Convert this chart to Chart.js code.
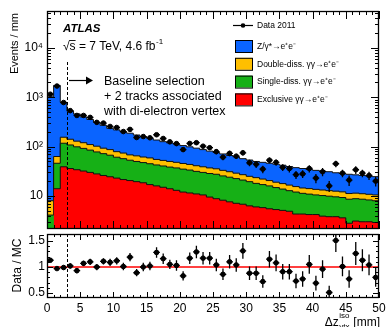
<!DOCTYPE html>
<html>
<head>
<meta charset="utf-8">
<title>Delta z vtx iso</title>
<script src="https://cdn.jsdelivr.net/npm/chart.js@4.4.1/dist/chart.umd.min.js"></script>
<style>
  body { margin: 0; background: #fff; }
  #plot { position: relative; width: 388px; height: 327px; overflow: hidden; }
  #plot canvas { position: absolute; left: 0; }
</style>
</head>
<body>
<div id="plot">
  <canvas id="main-chart" width="388" height="232" style="top:0"></canvas>
  <canvas id="ratio-chart" width="388" height="95" style="top:232px"></canvas>
</div>
<script>
// Bins de 1 mm en Δz (borde inferior de cada bin)
const binWidth = 1;
const binLow = [0, 1, 2, 3, 4, 5, 6, 7, 8, 9, 10, 11, 12, 13, 14, 15, 16, 17, 18, 19,
  20, 21, 22, 23, 24, 25, 26, 27, 28, 29, 30, 31, 32, 33, 34, 35, 36, 37, 38, 39,
  40, 41, 42, 43, 44, 45, 46, 47, 48, 49];

// Contribuciones MC (eventos / mm)
const exclusive = [0, 14, 39, 36, 34, 32, 30, 28, 26, 24.5, 23, 21.5, 20.5, 19.5, 18.5, 17, 16, 15, 14, 13,
  12, 11.5, 11, 10.5, 9.5, 8.8, 8.2, 7.6, 7.1, 6.8, 6.3, 6, 5.8, 5.5, 5.3, 5.1, 4.9, 4.3, 4.3, 4.2,
  4.2, 3.9, 3.8, 3.8, 3.6, 2.8, 3.1, 3.0, 3.0, 2.9];
const singleDiss = [4.1, 32, 78, 72, 65, 60, 55, 50, 46, 42.5, 38, 35.5, 32.5, 30.5, 29, 28, 26.5, 25.5, 24.5, 24,
  23, 22, 20.5, 19.5, 19, 18.7, 17.3, 16.4, 15.4, 14.2, 13.2, 12, 11.2, 10.5, 9.5, 8.7, 7.9, 7.7, 7.0, 6.7,
  6.3, 6.3, 6.1, 5.8, 5.7, 5.8, 5.7, 5.6, 5.3, 5.1];
const doubleDiss = [3.9, 17, 38, 33, 30, 28, 25, 24, 21, 20, 18, 17, 15, 15, 14, 14, 12.5, 12, 11.5, 11,
  10.5, 10, 9.5, 9, 8.5, 8, 7.5, 7, 6.5, 6, 5.5, 5.5, 5, 4.5, 4.2, 4.0, 3.8, 3.5, 3.2, 3.2,
  3.1, 3.0, 2.9, 2.9, 2.8, 2.6, 2.6, 2.5, 2.5, 2.5];
const zGamma = [1012, 1677, 635, 384, 331, 280, 245, 208, 177, 148, 139, 126, 119, 107, 98.5, 89, 81, 73.5, 69, 64,
  59.5, 55.5, 52, 48, 44, 40.5, 38, 35, 33, 30, 28.5, 26.5, 26, 25.5, 25, 24.2, 22.9, 22, 21.5, 20.4,
  19.4, 18.8, 18.2, 17, 16.4, 16.3, 15.4, 14.9, 14.5, 14.1];

// Datos 2011 y su error
const data2011 = [1153, 1688, 782, 536, 428, 428, 391, 310, 300, 256, 244, 202, 223, 153, 160, 151, 174, 146, 125, 115,
  87, 116, 120, 102, 95, 79, 61, 73, 64, 75, 47, 44, 35, 53, 48, 38, 36, 27, 28, 36,
  23, 31, 16, 45, 29, 21, 34, 29, 26, 20];
const dataErr = [34, 41, 28, 23, 21, 21, 20, 18, 17, 16, 16, 14, 15, 12, 13, 12, 13, 12, 11, 11,
  9, 11, 11, 10, 10, 9, 8, 9, 8, 9, 7, 7, 6, 7, 7, 6, 6, 5, 5, 6,
  5, 6, 4, 7, 5, 5, 6, 5, 5, 4.5];

// Cociente Data / MC
const ratio = [1.13, 0.97, 0.99, 1.02, 0.93, 1.07, 1.10, 1.00, 1.11, 1.09, 1.12, 1.01, 1.19, 0.89, 1.00, 1.02, 1.28, 1.16, 1.05, 1.03,
  0.83, 1.17, 1.29, 1.17, 1.17, 1.04, 0.86, 1.10, 1.04, 1.31, 0.88, 0.88, 0.72, 1.15, 1.08, 0.91, 0.91, 0.73, 0.77, 1.05,
  0.69, 0.96, 0.51, 1.51, 1.01, 0.77, 1.26, 1.13, 1.04, 0.80];
const ratioErr = [0.04, 0.03, 0.04, 0.05, 0.05, 0.05, 0.06, 0.06, 0.06, 0.07, 0.07, 0.07, 0.08, 0.07, 0.08, 0.08, 0.1, 0.1, 0.09, 0.1,
  0.09, 0.11, 0.12, 0.12, 0.12, 0.12, 0.11, 0.13, 0.13, 0.15, 0.13, 0.13, 0.12, 0.16, 0.16, 0.15, 0.15, 0.14, 0.15, 0.18,
  0.14, 0.17, 0.13, 0.22, 0.19, 0.17, 0.22, 0.21, 0.2, 0.18];

// Ejes
const xTicks = [0, 5, 10, 15, 20, 25, 30, 35, 40, 45, 50];
const yTicks = [10, 100, 1000, 10000];
const yTickLabels = ['10', '10²', '10³', '10⁴'];
const ratioTicks = [0.5, 1, 1.5];
const ratioTickLabels = ['0.5', '1', '1.5'];
const cutZ = 3; // corte de selección en Δz

const FONT = "'Liberation Sans', Arial, Helvetica, sans-serif";
Chart.defaults.font.family = FONT;
Chart.defaults.color = '#000';

const colZ = '#0a64ff';
const colDD = '#ffbf00';
const colSD = '#16b016';
const colEx = '#ff0000';

// Construir los escalones del histograma
function histSteps(vals) {
  const pts = vals.map((v, i) => ({ x: binLow[i], y: v }));
  pts.push({ x: binLow[binLow.length - 1] + binWidth, y: vals[vals.length - 1] });
  return pts;
}
function binCenters(vals) {
  return vals.map((v, i) => ({ x: binLow[i] + binWidth / 2, y: v }));
}
function addUp(a, b) {
  return a.map((v, i) => v + b[i]);
}

// Apilado (rojo abajo, azul arriba)
const stackEx = exclusive.slice();
const stackSD = addUp(stackEx, singleDiss);
const stackDD = addUp(stackSD, doubleDiss);
const stackZ = addUp(stackDD, zGamma);

function layer(label, values, color, order) {
  return {
    label, data: histSteps(values), stepped: 'before', fill: 'start',
    backgroundColor: color, borderColor: '#111', borderWidth: 1,
    pointRadius: 0, order
  };
}

// Quitar el relleno automático que Chart.js reserva para las etiquetas
function fixedAxis(size, horizontal) {
  return s => {
    if (horizontal) s.height = size; else s.width = size;
    s.paddingTop = 0; s.paddingBottom = 0; s.paddingLeft = 0; s.paddingRight = 0;
  };
}

// Barras de error
const errorBars = {
  id: 'errorBars',
  afterDatasetsDraw(chart) {
    const { ctx, chartArea: a, scales: { x, y } } = chart;
    ctx.save();
    ctx.beginPath();
    ctx.rect(a.left, a.top, a.right - a.left, a.bottom - a.top);
    ctx.clip();
    ctx.strokeStyle = '#000';
    ctx.lineWidth = 1.3;
    chart.data.datasets.forEach(ds => {
      if (!ds.errors) return;
      ds.data.forEach((p, i) => {
        const e = ds.errors[i];
        const px = x.getPixelForValue(p.x);
        const py = y.getPixelForValue(p.y);
        const lo = p.y - e > 0 ? y.getPixelForValue(p.y - e) : a.bottom;
        const hi = y.getPixelForValue(p.y + e);
        ctx.beginPath();
        ctx.moveTo(px, hi);
        ctx.lineTo(px, lo);
        ctx.moveTo(x.getPixelForValue(p.x - binWidth / 2), py);
        ctx.lineTo(x.getPixelForValue(p.x + binWidth / 2), py);
        ctx.stroke();
      });
    });
    ctx.restore();
  }
};

// Marco y ticks hacia dentro (estilo ATLAS)
function drawFrame(chart, yMajor, yMinor, majLen, minLen) {
  const { ctx, chartArea: a, scales: { x, y } } = chart;
  ctx.save();
  ctx.strokeStyle = '#000';
  ctx.lineWidth = 1;
  ctx.beginPath();
  for (let v = x.min; v <= x.max; v += binWidth) {
    const len = v % 5 === 0 ? majLen : minLen;
    const px = Math.round(x.getPixelForValue(v)) + 0.5;
    ctx.moveTo(px, a.bottom); ctx.lineTo(px, a.bottom - len);
    ctx.moveTo(px, a.top); ctx.lineTo(px, a.top + len);
  }
  const yTick = (v, len) => {
    const py = Math.round(y.getPixelForValue(v)) + 0.5;
    ctx.moveTo(a.left, py); ctx.lineTo(a.left + len, py);
    ctx.moveTo(a.right, py); ctx.lineTo(a.right - len, py);
  };
  yMajor.forEach(v => yTick(v, majLen));
  yMinor.forEach(v => yTick(v, minLen));
  ctx.stroke();
  ctx.lineWidth = 1.3;
  ctx.strokeRect(Math.round(a.left) + 0.5, Math.round(a.top) + 0.5,
    Math.round(a.right - a.left) - 1, Math.round(a.bottom - a.top) - 1);
  ctx.restore();
}

function dashedCut(chart, top) {
  const { ctx, chartArea: a, scales: { x } } = chart;
  const xc = Math.round(x.getPixelForValue(cutZ)) + 0.5;
  ctx.save();
  ctx.strokeStyle = '#000';
  ctx.lineWidth = 1;
  ctx.setLineDash([3, 2]);
  ctx.beginPath();
  ctx.moveTo(xc, top);
  ctx.lineTo(xc, a.bottom);
  ctx.stroke();
  ctx.restore();
}

const mainDecor = {
  id: 'mainDecor',
  afterDraw(chart) {
    const { ctx, scales: { y } } = chart;
    const logMinor = [];
    for (let k = 0; k <= 4; k++) {
      for (let m = 2; m <= 9; m++) {
        const v = m * Math.pow(10, k);
        if (v > y.min && v < y.max) logMinor.push(v);
      }
    }
    drawFrame(chart, yTicks, logMinor, 8, 4);
    dashedCut(chart, 62);

    ctx.save();
    ctx.fillStyle = '#000';
    ctx.strokeStyle = '#000';
    // flecha
    ctx.lineWidth = 1.2;
    ctx.beginPath();
    ctx.moveTo(69, 80.5);
    ctx.lineTo(87, 80.5);
    ctx.stroke();
    ctx.beginPath();
    ctx.moveTo(93, 80.5);
    ctx.lineTo(86, 76.5);
    ctx.lineTo(86, 84.5);
    ctx.closePath();
    ctx.fill();

    ctx.textBaseline = 'alphabetic';
    ctx.textAlign = 'left';
    ctx.font = '12.5px ' + FONT;
    ctx.fillText('Baseline selection', 104, 85);
    ctx.fillText('+ 2 tracks associated', 104, 100);
    ctx.fillText('with di-electron vertex', 104, 114.5);

    ctx.font = 'italic bold 11.5px ' + FONT;
    ctx.fillText('ATLAS', 63, 32);
    ctx.font = '12px ' + FONT;
    const t1 = '√s = 7 TeV, 4.6 fb';
    ctx.fillText(t1, 63, 50);
    const w1 = ctx.measureText(t1).width;
    const wRoot = ctx.measureText('√').width;
    const wS = ctx.measureText('s').width;
    ctx.lineWidth = 0.9;
    ctx.beginPath();
    ctx.moveTo(63 + wRoot - 0.5, 40.5);
    ctx.lineTo(63 + wRoot + wS, 40.5);
    ctx.stroke();
    ctx.font = '8px ' + FONT;
    ctx.fillText('-1', 63 + w1 + 0.5, 44);

    // eje y
    ctx.font = '11px ' + FONT;
    ctx.save();
    ctx.translate(15, 13);
    ctx.rotate(-Math.PI / 2);
    ctx.textAlign = 'right';
    ctx.textBaseline = 'middle';
    ctx.fillText('Events / mm', 0, 0);
    ctx.restore();

    // leyenda
    ctx.font = '8.5px ' + FONT;
    ctx.textBaseline = 'middle';
    ctx.lineWidth = 1.2;
    ctx.beginPath();
    ctx.moveTo(233, 25.5);
    ctx.lineTo(253, 25.5);
    ctx.stroke();
    ctx.beginPath();
    ctx.arc(243, 25.5, 2.3, 0, Math.PI * 2);
    ctx.fill();
    ctx.fillText(chart.data.datasets[0].label, 257, 25.5);
    const order = [4, 3, 2, 1];
    order.forEach((di, k) => {
      const ds = chart.data.datasets[di];
      const top = 40 + k * 17.8;
      ctx.fillStyle = ds.backgroundColor;
      ctx.fillRect(235, top, 17, 12);
      ctx.strokeStyle = '#000';
      ctx.lineWidth = 1;
      ctx.strokeRect(235.5, top + 0.5, 17, 12);
      ctx.fillStyle = '#000';
      ctx.fillText(ds.label, 257, top + 6.5);
    });
    ctx.restore();
  }
};

const ratioDecor = {
  id: 'ratioDecor',
  afterDraw(chart) {
    const { ctx } = chart;
    const minor = [];
    for (let v = 0.5; v <= 1.6; v += 0.1) {
      const r = Math.round(v * 10) / 10;
      if (!ratioTicks.includes(r)) minor.push(r);
    }
    drawFrame(chart, ratioTicks, minor, 6, 3);
    dashedCut(chart, chart.chartArea.top);

    ctx.save();
    ctx.fillStyle = '#000';
    ctx.font = '12px ' + FONT;
    ctx.save();
    ctx.translate(17.5, 33.5);
    ctx.rotate(-Math.PI / 2);
    ctx.textAlign = 'center';
    ctx.textBaseline = 'middle';
    ctx.fillText('Data / MC', 0, 0);
    ctx.restore();

    // título eje x: Δz_vtx^iso [mm]
    ctx.textBaseline = 'alphabetic';
    ctx.textAlign = 'left';
    const base = 93.5;
    ctx.font = '12px ' + FONT;
    const wUnit = ctx.measureText(' [mm]').width;
    ctx.font = '8px ' + FONT;
    const wIdx = Math.max(ctx.measureText('iso').width, ctx.measureText('vtx').width);
    ctx.font = '12px ' + FONT;
    const wDz = ctx.measureText('Δz').width;
    let xs = 380 - wUnit - wIdx - wDz - 1;
    ctx.fillText('Δz', xs, base);
    xs += wDz + 0.5;
    ctx.font = '8px ' + FONT;
    ctx.fillText('iso', xs, base - 8);
    ctx.fillText('vtx', xs, base + 3);
    xs += wIdx + 0.5;
    ctx.font = '12px ' + FONT;
    ctx.fillText(' [mm]', xs, base);
    ctx.restore();
  }
};

const tickFont = { family: FONT, size: 12 };

new Chart(document.getElementById('main-chart'), {
  type: 'line',
  data: {
    datasets: [
      {
        label: 'Data 2011', data: binCenters(data2011), errors: dataErr, showLine: false,
        pointRadius: 2.3, pointBackgroundColor: '#000', pointBorderColor: '#000', order: 0
      },
      layer('Exclusive γγ→e⁺e⁻', stackEx, colEx, 1),
      layer('Single-diss. γγ→e⁺e⁻', stackSD, colSD, 2),
      layer('Double-diss. γγ→e⁺e⁻', stackDD, colDD, 3),
      layer('Z/γ*→e⁺e⁻', stackZ, colZ, 4)
    ]
  },
  options: {
    responsive: false,
    animation: false,
    events: [],
    layout: { autoPadding: false, padding: { top: 11, right: 9, bottom: 3, left: 0 } },
    plugins: { legend: { display: false }, tooltip: { enabled: false } },
    scales: {
      x: { type: 'linear', min: 0, max: 50, display: false },
      y: {
        type: 'logarithmic', min: 2.14, max: 56000,
        afterBuildTicks: s => { s.ticks = yTicks.map(v => ({ value: v })); },
        afterFit: fixedAxis(47, false),
        grid: { display: false, drawTicks: false },
        border: { display: false },
        ticks: {
          callback: v => yTickLabels[yTicks.indexOf(v)] ?? '',
          font: tickFont, color: '#000', padding: 4, autoSkip: false
        }
      }
    }
  },
  plugins: [errorBars, mainDecor]
});

new Chart(document.getElementById('ratio-chart'), {
  type: 'line',
  data: {
    datasets: [
      {
        label: 'Data / MC', data: binCenters(ratio), errors: ratioErr, showLine: false,
        pointRadius: 2.3, pointBackgroundColor: '#000', pointBorderColor: '#000', order: 0
      },
      {
        label: 'unidad', data: [{ x: 0, y: 1 }, { x: 50, y: 1 }],
        borderColor: '#ff0000', borderWidth: 1.6, pointRadius: 0, order: 1
      }
    ]
  },
  options: {
    responsive: false,
    animation: false,
    events: [],
    layout: { autoPadding: false, padding: { top: 2, right: 9, bottom: 0, left: 0 } },
    plugins: { legend: { display: false }, tooltip: { enabled: false } },
    scales: {
      x: {
        type: 'linear', min: 0, max: 50,
        afterBuildTicks: s => { s.ticks = xTicks.map(v => ({ value: v })); },
        afterFit: fixedAxis(29, true),
        grid: { display: false, drawTicks: false },
        border: { display: false },
        ticks: { font: tickFont, color: '#000', padding: 3, maxRotation: 0, autoSkip: false }
      },
      y: {
        type: 'linear', min: 0.404, max: 1.635,
        afterBuildTicks: s => { s.ticks = ratioTicks.map(v => ({ value: v })); },
        afterFit: fixedAxis(47, false),
        grid: { display: false, drawTicks: false },
        border: { display: false },
        ticks: {
          callback: v => ratioTickLabels[ratioTicks.indexOf(v)] ?? '',
          font: tickFont, color: '#000', padding: 2, autoSkip: false
        }
      }
    }
  },
  plugins: [errorBars, ratioDecor]
});
</script>
</body>
</html>
